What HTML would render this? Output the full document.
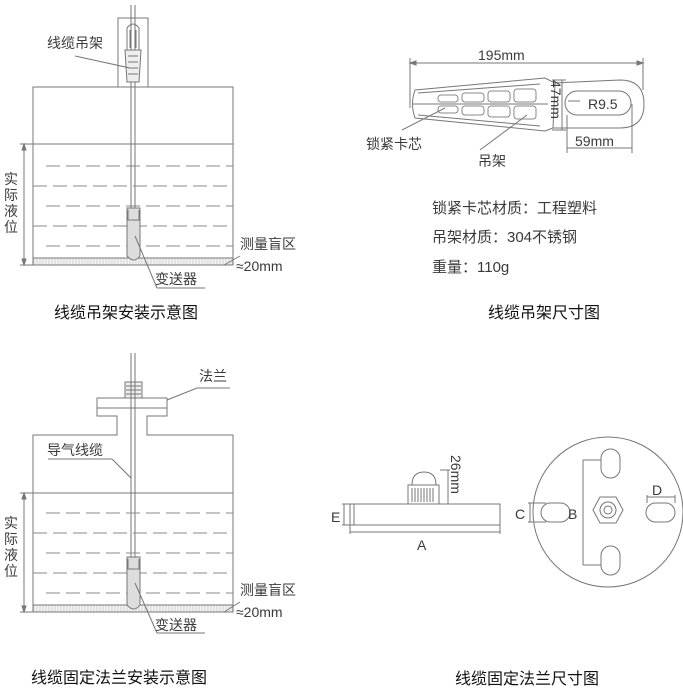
<!DOCTYPE html>
<html><head><meta charset="utf-8"><style>
html,body{margin:0;padding:0;background:#fff;}
svg{display:block;}
text{font-family:"Liberation Sans","Noto Sans CJK SC",sans-serif;fill:#3a3a3a;}
</style></head><body>
<svg width="683" height="693" viewBox="0 0 683 693" xmlns="http://www.w3.org/2000/svg">
<defs>
<pattern id="hatch" width="3" height="7" patternUnits="userSpaceOnUse"><rect width="3" height="7" fill="#f4f4f4"/><line x1="1" y1="0" x2="1" y2="7" stroke="#bbb" stroke-width="0.6"/></pattern>
</defs>
<g stroke="#777" stroke-width="1" fill="none">
<!-- ===== Top-left ===== -->
<rect x="118" y="18" width="30" height="69"/>
<rect x="33" y="87" width="200" height="178"/>
<line x1="33" y1="144" x2="233" y2="144"/>
<g stroke-dasharray="14,6" stroke="#888">
<line x1="46" y1="166" x2="233" y2="166"/>
<line x1="33" y1="186" x2="233" y2="186"/>
<line x1="46" y1="206" x2="233" y2="206"/>
<line x1="33" y1="226" x2="233" y2="226"/>
<line x1="46" y1="246" x2="233" y2="246"/>
</g>
<rect x="33" y="258" width="200" height="7" fill="url(#hatch)"/>
<line x1="131" y1="5" x2="131" y2="210"/><line x1="135" y1="5" x2="135" y2="210"/>
<path d="M127 50 L127 28 Q133 20 139 28 L139 50 M130 48 L130 30 M136 48 L136 30"/>
<path d="M125 50 L141 50 L139 82 L127 82 Z" fill="#eee"/>
<path d="M128 56 h10 M128 62 h10 M128 68 h10 M128 74 h10"/>
<path d="M127 208 h13 v48 q-6 8 -13 0 z" fill="#ddd"/>
<path d="M128 210 v10 h11 v-10"/>
<line x1="24" y1="144" x2="24" y2="265"/>
<line x1="20" y1="144" x2="33" y2="144"/><line x1="20" y1="265" x2="33" y2="265"/>
<path d="M24 144 l-2 6 h4 z M24 265 l-2 -6 h4 z" fill="#777"/>
<line x1="75" y1="56" x2="130" y2="68"/>
<line x1="135" y1="236" x2="157" y2="288"/><line x1="157" y1="288" x2="205" y2="288"/>
<line x1="224" y1="265" x2="240" y2="256"/>
<!-- ===== Top-right ===== -->
<line x1="410" y1="63" x2="643" y2="63"/>
<line x1="410" y1="58" x2="410" y2="108"/><line x1="643" y1="58" x2="643" y2="90"/>
<path d="M410 63 l6 -2 v4 z M643 63 l-6 -2 v4 z" fill="#777"/>
<path d="M415 90 L545 78 L555 83 L553 128 L545 131 L415 118 Q410 104 415 90 Z"/>
<path d="M418 93 L540 84 M418 115 L540 126 M412 104 L548 104"/>
<g stroke="#888">
<rect x="438" y="95" width="20" height="7" rx="3"/><rect x="462" y="93" width="22" height="9" rx="3"/><rect x="488" y="91" width="22" height="11" rx="3"/><rect x="514" y="89" width="22" height="13" rx="3"/>
<rect x="438" y="106" width="20" height="7" rx="3"/><rect x="462" y="106" width="22" height="9" rx="3"/><rect x="488" y="106" width="22" height="11" rx="3"/><rect x="514" y="106" width="22" height="13" rx="3"/>
</g>
<path d="M553 83 L620 80 Q644 80 644 104 Q644 128 620 128 L553 128"/>
<rect x="565" y="91" width="66" height="24" rx="12"/>
<path d="M568 101 h12"/>
<line x1="552" y1="80" x2="566" y2="80"/><line x1="552" y1="130" x2="566" y2="130"/>
<line x1="562" y1="80" x2="562" y2="130"/>
<line x1="567" y1="115" x2="567" y2="153"/><line x1="632" y1="104" x2="632" y2="153"/>
<line x1="567" y1="148" x2="632" y2="148"/>
<line x1="402" y1="130" x2="445" y2="108"/>
<line x1="480" y1="150" x2="527" y2="115"/>
<!-- ===== Bottom-left ===== -->
<path d="M33 435 L117 435 L117 416 L97 416 L97 398 L167 398 L167 416 L147 416 L147 435 L233 435 L233 612 L33 612 Z"/>
<line x1="97" y1="408" x2="167" y2="408"/>
<rect x="125" y="382" width="17" height="16" fill="#eee"/>
<path d="M126 386 h15 M126 390 h15 M126 394 h15"/>
<line x1="131" y1="353" x2="131" y2="557"/><line x1="135" y1="353" x2="135" y2="557"/>
<line x1="33" y1="493" x2="233" y2="493"/>
<g stroke-dasharray="14,6" stroke="#888">
<line x1="46" y1="513" x2="233" y2="513"/>
<line x1="33" y1="533" x2="233" y2="533"/>
<line x1="46" y1="553" x2="233" y2="553"/>
<line x1="33" y1="573" x2="233" y2="573"/>
<line x1="46" y1="593" x2="233" y2="593"/>
</g>
<rect x="33" y="605" width="200" height="7" fill="url(#hatch)"/>
<path d="M127 557 h13 v48 q-6 8 -13 0 z" fill="#ddd"/>
<path d="M128 559 v10 h11 v-10"/>
<line x1="24" y1="493" x2="24" y2="612"/>
<line x1="20" y1="493" x2="33" y2="493"/><line x1="20" y1="612" x2="33" y2="612"/>
<path d="M24 493 l-2 6 h4 z M24 612 l-2 -6 h4 z" fill="#777"/>
<line x1="167" y1="400" x2="197" y2="388"/><line x1="197" y1="388" x2="230" y2="388"/>
<line x1="48" y1="459" x2="112" y2="459"/><line x1="112" y1="459" x2="131" y2="478"/>
<line x1="135" y1="583" x2="157" y2="633"/><line x1="157" y1="633" x2="205" y2="633"/>
<line x1="224" y1="612" x2="240" y2="602"/>
<!-- ===== Bottom-right ===== -->
<rect x="350" y="504" width="150" height="21"/>
<line x1="354" y1="504" x2="354" y2="525"/>
<rect x="408" y="485" width="31" height="19"/>
<path d="M412 485 Q412 472 424 472 Q436 472 436 485"/>
<path d="M412 488 v14 M415 488 v14 M418 488 v14 M421 488 v14 M424 488 v14 M427 488 v14 M430 488 v14 M433 488 v14"/>
<line x1="440" y1="470" x2="450" y2="470"/><line x1="448" y1="470" x2="448" y2="504"/>
<line x1="344" y1="504" x2="344" y2="525"/><line x1="342" y1="504" x2="350" y2="504"/><line x1="342" y1="525" x2="350" y2="525"/>
<line x1="350" y1="532" x2="500" y2="532"/><line x1="350" y1="525" x2="350" y2="534"/><line x1="500" y1="525" x2="500" y2="534"/>
<circle cx="608" cy="512" r="75"/>
<rect x="601" y="449" width="19" height="29" rx="9.5"/>
<rect x="601" y="546" width="19" height="29" rx="9.5"/>
<rect x="541" y="503" width="29" height="19" rx="9.5"/>
<rect x="646" y="503" width="29" height="19" rx="9.5"/>
<polygon points="593,510 600,497 616,497 623,510 616,523 600,523"/>
<circle cx="608" cy="510" r="8"/><circle cx="608" cy="510" r="4"/>
<line x1="583" y1="460" x2="583" y2="565"/>
<line x1="583" y1="460" x2="601" y2="460"/><line x1="583" y1="565" x2="601" y2="565"/>
<line x1="530" y1="503" x2="530" y2="522"/><line x1="528" y1="503" x2="546" y2="503"/><line x1="528" y1="522" x2="546" y2="522"/>
<line x1="647" y1="497" x2="675" y2="497"/><line x1="647" y1="495" x2="647" y2="503"/><line x1="675" y1="495" x2="675" y2="503"/>
</g>
<!-- text -->
<g font-size="14">
<text x="47" y="48">线缆吊架</text>
<text x="240" y="249">测量盲区</text>
<text x="236" y="271">≈20mm</text>
<text x="155" y="284">变送器</text>
<text x="199" y="381">法兰</text>
<text x="47" y="455">导气线缆</text>
<text x="240" y="595">测量盲区</text>
<text x="236" y="617">≈20mm</text>
<text x="155" y="630">变送器</text>
<text x="478" y="60">195mm</text>
<text x="588" y="109">R9.5</text>
<text x="575" y="146">59mm</text>
<text x="366" y="149">锁紧卡芯</text>
<text x="478" y="166">吊架</text>
<text x="331" y="522">E</text>
<text x="417" y="550">A</text>
<text x="515" y="519">C</text>
<text x="568" y="519">B</text>
<text x="652" y="495">D</text>
</g>
<g font-size="14">
<text x="4" y="184">实</text><text x="4" y="200">际</text><text x="4" y="216">液</text><text x="4" y="232">位</text>
<text x="4" y="528">实</text><text x="4" y="544">际</text><text x="4" y="560">液</text><text x="4" y="576">位</text>
</g>
<text font-size="14" transform="translate(551,80) rotate(90)">47mm</text>
<text font-size="14" transform="translate(451,455) rotate(90)">26mm</text>
<g font-size="15">
<text x="432" y="213">锁紧卡芯材质：工程塑料</text>
<text x="432" y="242">吊架材质：304不锈钢</text>
<text x="432" y="272">重量：110g</text>
</g>
<g font-size="16">
<text x="54" y="318" style="fill:#111">线缆吊架安装示意图</text>
<text x="488" y="318" style="fill:#111">线缆吊架尺寸图</text>
<text x="31" y="683" style="fill:#111">线缆固定法兰安装示意图</text>
<text x="455" y="684" style="fill:#111">线缆固定法兰尺寸图</text>
</g>
</svg>
</body></html>
